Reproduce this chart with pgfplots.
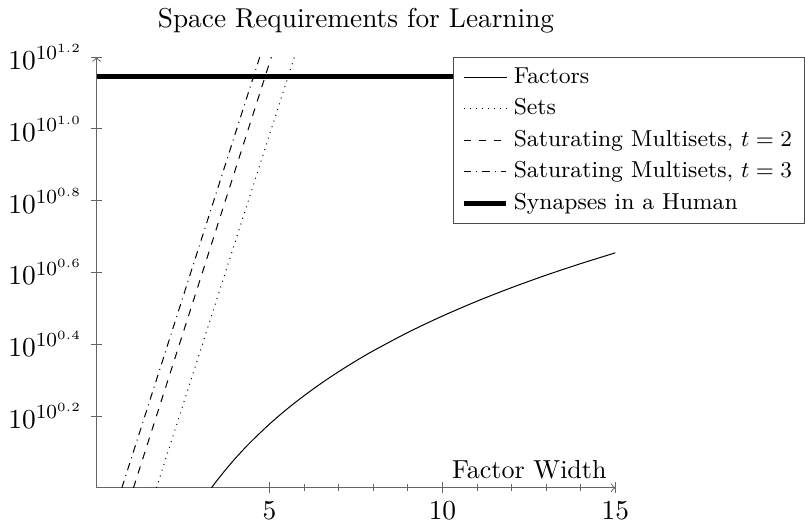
\documentclass[border=0pt]{standalone}
\usepackage{pgfplots}
\pgfplotsset{compat=1.18}
\begin{document}
\begin{tikzpicture}[font=\fontsize{11}{13.2}\selectfont]
\begin{axis}[
  scale only axis,
  width=207.2pt, height=172pt,
  axis lines=middle,
  axis line style={->, black!60},
  xmin=0, xmax=15, ymin=0, ymax=1.2,
  xtick={5,10,15},
  minor x tick num=4,
  ytick={0.2,0.4,0.6,0.8,1.0,1.2},
  yticklabels={$10^{10^{0.2}}$,$10^{10^{0.4}}$,$10^{10^{0.6}}$,$10^{10^{0.8}}$,$10^{10^{1.0}}$,$10^{10^{1.2}}$},
  tick align=center,
  every tick/.style={black!60},
  title={Space Requirements for Learning},
  title style={font=\fontsize{10.9}{13}\selectfont},
  xlabel={Factor Width},
  xlabel style={at={(axis cs:15,0)}, anchor=south east, font=\fontsize{10.4}{12.5}\selectfont},
  legend style={at={(rel axis cs:0.687,1)}, anchor=north west, draw=black!70, fill=white,
    font=\fontsize{9.2}{11}\selectfont, row sep=0.6pt},
  legend cell align=left,
]
\addplot[black, smooth, no marks] coordinates {
(3.3219,0) (3.4,0.0101) (3.5,0.0227) (3.75,0.0526) (4,0.0807) (4.25,0.1070) (4.5,0.1318)
(5,0.1776) (5.5,0.2190) (6,0.2567) (6.5,0.2915) (7,0.3237) (7.5,0.3537) (8,0.3817)
(9,0.4329) (10,0.4786) (11,0.5200) (12,0.5578) (13,0.5926) (14,0.6247) (15,0.6547)};
\addlegendentry{Factors}
\addplot[black, dotted, no marks] coordinates {(1.7320,0) (5.7184,1.2)};
\addlegendentry{Sets}
\addplot[black, dashed, no marks] coordinates {(1.0673,0) (5.0536,1.2)};
\addlegendentry{Saturating Multisets, $t=2$}
\addplot[black, dashdotted, no marks] coordinates {(0.7322,0) (4.7186,1.2)};
\addlegendentry{Saturating Multisets, $t=3$}
\addplot[black, line width=2pt, no marks] coordinates {(0,1.1461) (15,1.1461)};
\addlegendentry{Synapses in a Human}
\end{axis}
\end{tikzpicture}
\end{document}
